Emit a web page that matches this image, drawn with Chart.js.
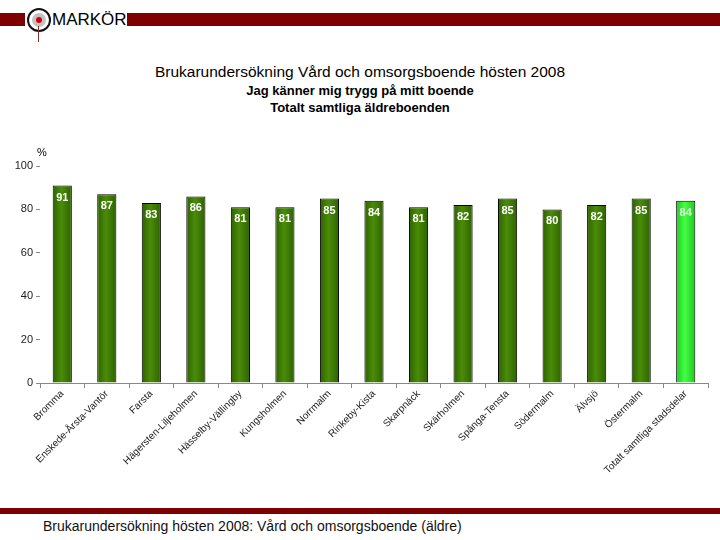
<!DOCTYPE html>
<html><head><meta charset="utf-8">
<script src="https://cdn.jsdelivr.net/npm/chart.js@4/dist/chart.umd.min.js"></script>
<style>
html,body{margin:0;padding:0;background:#fff;width:720px;height:540px;overflow:hidden;font-family:"Liberation Sans",Arial,sans-serif;}
#hdr{position:absolute;left:0;top:13px;width:720px;height:13px;background:#7f0000;}
#logo{position:absolute;left:25px;top:8px;width:102px;height:24px;background:#fff;}
#ring{position:absolute;left:27px;top:8px;width:20px;height:20px;border:2px solid #111;border-radius:50%;background:#fff;}
#inner{position:absolute;left:32px;top:13px;width:14px;height:14px;border-radius:50%;background:#c8c0c0;}
#dot{position:absolute;left:36px;top:17px;width:6px;height:6px;border-radius:50%;background:#d00010;}
#stem{position:absolute;left:38px;top:26px;width:1px;height:16px;background:#8a3030;}
#mk{position:absolute;left:52px;top:10px;font-size:17px;color:#000;line-height:20px;}
.t{position:absolute;left:0;width:720px;text-align:center;color:#000;white-space:nowrap;}
#t1{top:63px;font-size:15.5px;}
#t2{top:83px;font-size:13px;font-weight:bold;}
#t3{top:100px;font-size:13px;font-weight:bold;}
#ftr{position:absolute;left:0;top:508px;width:720px;height:6px;background:#7f0000;}
#ft{position:absolute;left:43px;top:518px;font-size:14px;color:#111;white-space:nowrap;}
#wrap{position:absolute;left:0;top:130px;width:720px;height:360px;}
</style></head>
<body>
<div id="hdr"></div>
<div id="logo"></div>
<div id="ring"></div><div id="inner"></div><div id="dot"></div><div id="stem"></div>
<div id="mk">MARKÖR</div>
<div class="t" id="t1">Brukarundersökning Vård och omsorgsboende hösten 2008</div>
<div class="t" id="t2">Jag känner mig trygg på mitt boende</div>
<div class="t" id="t3">Totalt samtliga äldreboenden</div>
<div id="wrap"><canvas id="c" width="720" height="360"></canvas></div>
<div id="ftr"></div>
<div id="ft">Brukarundersökning hösten 2008: Vård och omsorgsboende (äldre)</div>
<script>
const categories = ["Bromma","Enskede-Årsta-Vantör","Farsta","Hägersten-Liljeholmen","Hässelby-Vällingby","Kungsholmen","Norrmalm","Rinkeby-Kista","Skarpnäck","Skärholmen","Spånga-Tensta","Södermalm","Älvsjö","Östermalm","Totalt samtliga stadsdelar"];
const values = [91,87,83,86,81,81,85,84,81,82,85,80,82,85,84];
const yTicks = [0,20,40,60,80,100];
const yUnit = "%";

function barFill(ctx){
  const last = ctx.dataIndex === values.length - 1;
  const meta = ctx.chart.getDatasetMeta(0);
  const el = meta.data[ctx.dataIndex];
  if (!el || el.x == null || isNaN(el.x) || !el.width) return last ? '#33ee33' : '#3e7c04';
  const g = ctx.chart.ctx.createLinearGradient(el.x - el.width/2, 0, el.x + el.width/2, 0);
  if (last){
    g.addColorStop(0,'#1fc81f'); g.addColorStop(0.45,'#44ff44'); g.addColorStop(1,'#1fc81f');
  } else {
    g.addColorStop(0,'#2e6200'); g.addColorStop(0.45,'#4a8c08'); g.addColorStop(1,'#2e6200');
  }
  return g;
}

const labelPlugin = {
  id:'vals',
  afterDatasetsDraw(chart){
    const c = chart.ctx;
    const meta = chart.getDatasetMeta(0);
    c.save();
    c.font = 'bold 11px "Liberation Sans", Arial, sans-serif';
    c.textAlign = 'center'; c.textBaseline = 'middle';
    meta.data.forEach((el,i)=>{
      c.fillStyle = i === values.length-1 ? '#d8ffd0' : '#ffffff';
      c.fillText(String(values[i]), el.x, el.y + 12);
    });
    // unit label
    c.fillStyle = '#000';
    c.font = '11px "Liberation Sans", Arial, sans-serif';
    c.textAlign = 'center';
    c.fillText(yUnit, chart.chartArea.left + 2, chart.chartArea.top - 13);
    c.restore();
  }
};

const chart = new Chart(document.getElementById('c'), {
  type:'bar',
  data:{labels:categories, datasets:[{data:values, backgroundColor:barFill, borderColor:'#000', borderWidth:1, borderSkipped:'bottom', categoryPercentage:1, barPercentage:0.43}]},
  options:{
    responsive:false, animation:false,
    layout:{padding:{top:36,right:12,left:0,bottom:0}},
    plugins:{legend:{display:false}, tooltip:{enabled:false}, title:{display:false}},
    scales:{
      x:{
        grid:{display:true, drawOnChartArea:false, offset:true, tickLength:5, color:'#888'},
        border:{display:true, color:'#888'},
        ticks:{maxRotation:45, minRotation:45, autoSkip:false, color:'#222', font:{size:10, family:'"Liberation Sans", Arial, sans-serif'}, padding:0},
        afterFit(s){ s.height = 107; }
      },
      y:{
        min:0, max:100,
        afterBuildTicks(s){ s.ticks = yTicks.map(v=>({value:v})); },
        grid:{display:true, drawOnChartArea:false, tickLength:4, color:'#888'},
        border:{display:false},
        ticks:{color:'#222', font:{size:11, family:'"Liberation Sans", Arial, sans-serif'}, padding:3},
        afterFit(s){ s.width = 40; }
      }
    }
  },
  plugins:[labelPlugin]
});
chart.update('none');
</script>
</body></html>
